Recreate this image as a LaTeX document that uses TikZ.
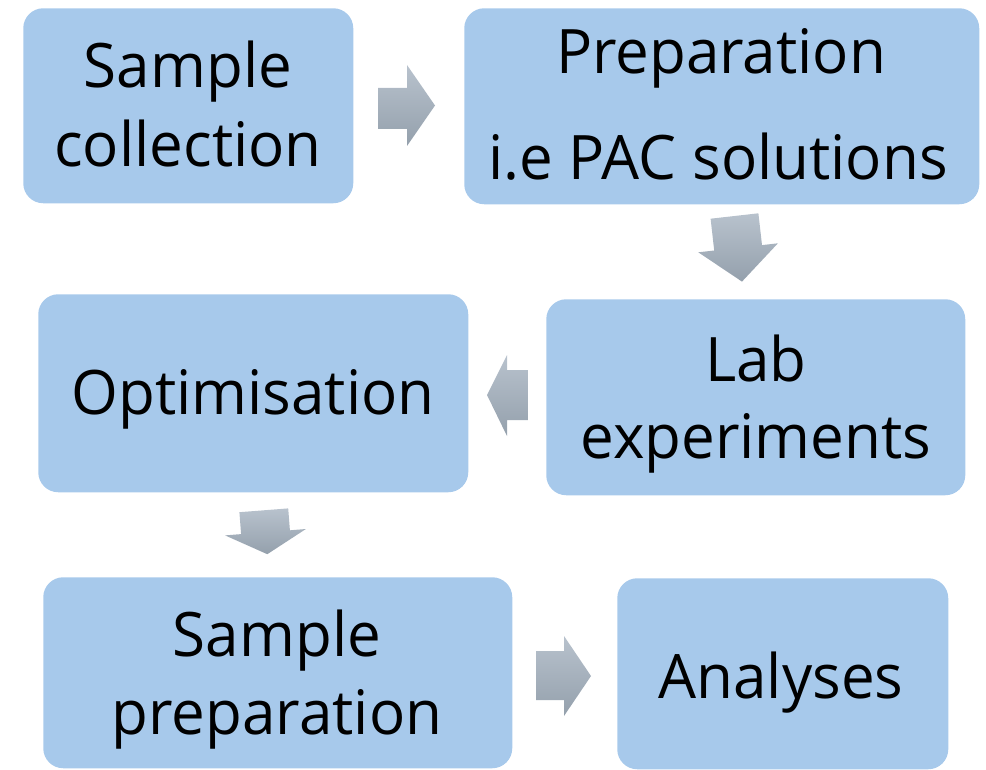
\documentclass[tikz,border=0pt]{standalone}
\usepackage{fontspec}
\setmainfont{Open Sans}[FakeStretch=0.98]
\definecolor{boxblue}{RGB}{167,201,235}
\definecolor{arrtop}{RGB}{184,194,205}
\definecolor{arrbot}{RGB}{148,160,172}
\begin{document}
\begin{tikzpicture}[x=0.75pt,y=-0.75pt,
  box/.style={draw=none,fill=boxblue,rounded corners=15pt,anchor=north west,inner sep=0pt},
  lbl/.style={anchor=base,inner sep=0pt,font=\fontsize{46}{59}\selectfont,text=black},
  blockarrow/.style={draw=none,top color=arrtop,bottom color=arrbot}]
\useasboundingbox (0,0) rectangle (986,770);
% boxes
\node[box,minimum width=247.5pt,minimum height=146.25pt] (b1) at (23,8) {};
\node[box,minimum width=386.25pt,minimum height=147pt] (b2) at (464,8) {};
\node[box,minimum width=314.25pt,minimum height=147pt] (b3) at (546,299) {};
\node[box,minimum width=322.5pt,minimum height=148.5pt] (b4) at (38,294) {};
\node[box,minimum width=351.75pt,minimum height=143.25pt] (b5) at (43,577) {};
\node[box,minimum width=248.25pt,minimum height=143.25pt] (b6) at (617,578) {};
% labels
\node[lbl] (t1a) at (188,88) {Sample};
\node[lbl] (t1b) at (188,167) {collection};
\node[lbl] (t2a) at (721,74) {Preparation};
\node[lbl] (t2b) at (718,180) {i.e PAC solutions};
\node[lbl] (t3a) at (756,381) {Lab};
\node[lbl] (t3b) at (756,458) {experiments};
\node[lbl] (t4) at (253,414) {Optimisation};
\node[lbl] (t5a) at (277,656) {Sample};
\node[lbl] (t5b) at (277,734) {preparation};
\node[lbl] (t6) at (781,698) {Analyses};
% block arrows
\path[blockarrow] (378,88) -- (407,88) -- (407,65) -- (435,105.5) -- (407,146) -- (407,129) -- (378,129) -- cycle;
\path[blockarrow] (710.6,218.7) -- (758.4,213.3) -- (762,245.1) -- (777.9,243.3) -- (742,281.6) -- (698.3,252.3) -- (714.2,250.5) -- cycle;
\path[blockarrow] (528,370) -- (507,370) -- (507,355) -- (487,395) -- (507,436) -- (507,420) -- (528,420) -- cycle;
\path[blockarrow] (239.4,512.2) -- (288.2,508.4) -- (289.9,530.3) -- (305.9,529.0) -- (267.3,554.2) -- (225.1,535.4) -- (241.1,534.1) -- cycle;
\path[blockarrow] (536,651) -- (564,651) -- (564,636) -- (591,676) -- (564,716) -- (564,700) -- (536,700) -- cycle;
\end{tikzpicture}
\end{document}
